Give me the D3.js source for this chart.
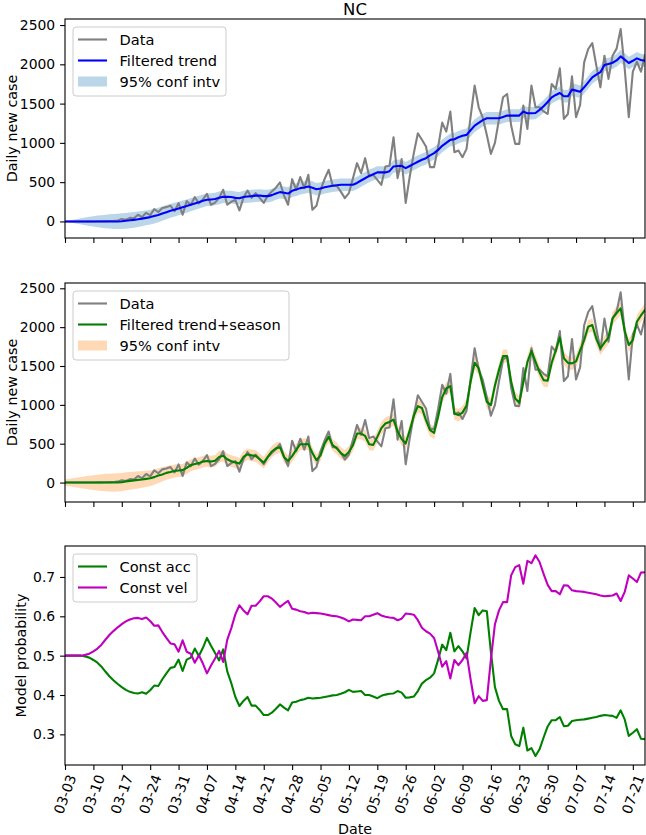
<!DOCTYPE html>
<html><head><meta charset="utf-8">
<script src="https://cdn.jsdelivr.net/npm/d3@7"></script>
<style>body{margin:0;background:#fff} svg{display:block} text{font-family:"DejaVu Sans",sans-serif;fill:#000}</style>
</head><body><svg id="c" width="646" height="835"></svg>
<script>
const title = "NC";
const startYear = "2020";
const tickLabels = ["03-03","03-10","03-17","03-24","03-31","04-07","04-14","04-21","04-28","05-05","05-12","05-19","05-26","06-02","06-09","06-16","06-23","06-30","07-07","07-14","07-21"];
const yTicksCases = [0,500,1000,1500,2000,2500];
const yTicksProb = [0.3,0.4,0.5,0.6,0.7];

// daily new cases from 03-03 to 07-24
const cases = [
0,0,0,0,0,0,1,0,2,3,4,6,8,12,
30,20,45,40,85,55,110,
80,157,120,170,182,200,130,
233,85,260,210,310,230,280,
352,212,240,300,403,212,250,
275,140,300,394,300,360,300,
236,330,382,430,496,330,212,
538,403,564,424,593,148,199,
403,540,657,454,454,380,297,
361,550,742,615,805,572,593,
530,466,700,708,1072,551,793,
236,572,869,1123,1040,953,691,
691,950,1258,1143,1398,881,903,
818,924,1330,1729,1453,1320,1100,
860,1000,1300,1580,1623,1220,987,
987,1474,1178,1729,1453,1453,1400,
1368,1750,1686,1949,1305,1368,1848,
1326,1482,2025,2195,2271,1983,1707,
2110,1814,2110,2200,2449,1941,1326,
1906,2033,1906,2118];

const trend = [
0,0,0,0,0,0,0,0,0,0,0,0,0,0,
3,8,14,20,27,36,45,
55,68,82,100,118,135,150,
165,180,195,212,228,245,262,
275,280,285,300,315,312,310,
300,295,310,318,322,328,330,
322,322,335,355,373,365,355,
390,405,424,432,445,430,410,
420,435,445,455,460,466,466,
466,466,490,521,550,580,600,
624,624,624,640,700,705,708,
678,705,733,760,785,805,840,
869,910,962,1000,1038,1047,1072,
1090,1102,1160,1220,1255,1290,1313,
1313,1313,1313,1330,1347,1347,1347,
1347,1398,1377,1377,1380,1420,1466,
1520,1580,1610,1635,1593,1593,1678,
1665,1652,1707,1770,1834,1870,1900,
1991,2005,2020,2050,2101,2060,2017,
2045,2076,2055,2046];

const trendHalfWidth = [
0,10,20,30,40,50,58,66,74,80,86,91,95,98,
100,100,100,99,98,96,95,
94,93,92,91,90,89,88,
87,86,85,84,83,82,81,
80,80,80,80,80,80,80,
80,80,80,80,80,80,80,
80,80,80,80,80,80,80,
80,80,80,80,80,80,80,
80,80,80,80,80,80,80,
80,80,80,80,80,80,80,
80,80,80,80,80,80,80,
80,80,80,80,80,80,80,
80,80,80,80,80,80,80,
80,80,80,80,80,80,80,
80,80,80,80,80,80,80,
80,80,80,80,80,80,80,
80,80,80,80,80,80,80,
80,80,80,80,80,80,80,
80,80,80,80,80,80,80,
80,80,80,80];

const trendSeason = [
0,0,0,0,0,0,0,0,0,0,0,0,0,2,
5,15,22,28,35,40,48,
55,70,90,105,125,135,150,
155,160,190,223,238,250,270,
278,270,280,330,345,300,275,
260,244,330,364,350,343,300,
257,330,400,440,455,330,278,
340,420,493,493,495,380,287,
350,500,588,481,440,380,343,
395,480,631,631,600,493,485,
588,700,760,780,810,660,560,
502,674,860,983,960,803,674,
640,850,1100,1211,1241,889,868,
900,990,1300,1542,1469,1250,1039,
996,1250,1450,1627,1627,1297,1082,
1026,1290,1550,1696,1555,1420,1318,
1310,1542,1700,1868,1600,1540,1534,
1560,1700,1834,2006,2027,1850,1727,
1800,1868,2113,2180,2242,1950,1770,
1834,2070,2150,2220];

const seasonHalfWidth = [
40,48,56,64,72,80,88,95,102,108,112,115,117,118,
118,117,115,112,110,107,104,
100,97,94,91,88,86,84,
82,80,79,78,77,76,75,
75,75,75,75,75,75,75,
75,75,75,75,75,75,75,
75,75,75,75,75,75,75,
75,75,75,75,75,75,75,
75,75,75,75,75,75,75,
75,75,75,75,75,75,75,
80,80,80,80,80,80,80,
80,80,80,80,80,80,80,
80,80,80,80,80,80,80,
85,85,85,85,85,85,85,
85,85,85,85,85,85,85,
85,85,85,85,85,85,85,
85,85,85,85,85,85,85,
85,85,85,85,85,85,85,
85,85,85,85,85,85,85,
85,85,85,85];

const probConstAcc = [
0.5,0.5,0.5,0.5,0.5,0.498,0.495,
0.489,0.482,0.472,0.459,0.447,0.437,0.428,
0.42,0.413,0.408,0.405,0.404,0.407,0.403,
0.412,0.424,0.423,0.44,0.455,0.469,0.471,
0.49,0.461,0.49,0.495,0.518,0.499,0.52,
0.545,0.525,0.507,0.488,0.516,0.46,0.43,
0.395,0.372,0.385,0.395,0.373,0.373,0.362,
0.349,0.349,0.355,0.365,0.376,0.368,0.361,
0.381,0.383,0.387,0.389,0.393,0.391,0.392,
0.393,0.395,0.397,0.399,0.4,0.403,0.407,
0.413,0.408,0.409,0.41,0.4,0.4,0.396,
0.392,0.398,0.401,0.403,0.404,0.41,0.406,
0.393,0.394,0.396,0.41,0.429,0.438,0.444,
0.455,0.49,0.528,0.514,0.558,0.511,0.524,
0.511,0.493,0.56,0.621,0.603,0.615,0.613,
0.51,0.42,0.385,0.364,0.364,0.296,0.275,
0.27,0.317,0.259,0.265,0.245,0.262,0.292,
0.32,0.336,0.336,0.344,0.321,0.322,0.334,
0.336,0.337,0.338,0.34,0.342,0.344,0.347,
0.349,0.348,0.347,0.342,0.361,0.338,0.296,
0.304,0.313,0.289,0.288];

const probConstVel = [
0.5,0.5,0.5,0.5,0.5,0.502,0.505,
0.511,0.518,0.528,0.541,0.553,0.563,0.572,
0.58,0.587,0.592,0.595,0.596,0.593,0.597,
0.588,0.576,0.577,0.56,0.545,0.531,0.529,
0.51,0.539,0.51,0.505,0.482,0.501,0.48,
0.455,0.475,0.493,0.512,0.484,0.54,0.57,
0.605,0.628,0.615,0.605,0.627,0.627,0.638,
0.651,0.651,0.645,0.635,0.624,0.632,0.639,
0.619,0.617,0.613,0.611,0.607,0.609,0.608,
0.607,0.605,0.603,0.601,0.6,0.597,0.593,
0.587,0.592,0.591,0.59,0.6,0.6,0.604,
0.608,0.602,0.599,0.597,0.596,0.59,0.594,
0.607,0.606,0.604,0.59,0.571,0.562,0.556,
0.545,0.51,0.472,0.486,0.442,0.489,0.476,
0.489,0.507,0.44,0.379,0.397,0.385,0.387,
0.49,0.58,0.615,0.636,0.636,0.704,0.725,
0.73,0.683,0.741,0.735,0.755,0.738,0.708,
0.68,0.664,0.664,0.656,0.679,0.678,0.666,
0.664,0.663,0.662,0.66,0.658,0.656,0.653,
0.651,0.652,0.653,0.658,0.639,0.662,0.704,
0.696,0.687,0.711,0.712];

// ---------- drawing ----------
const svg = d3.select("#c");
const FONT = 13.9, LABEL_FONT = 14.3, LEG_FONT = 14.6;
const parse = d3.utcParse("%Y-%m-%d");
const t0 = parse(startYear + "-" + tickLabels[0]);
const dates = cases.map((_, i) => d3.utcDay.offset(t0, i));
const tickDates = tickLabels.map(l => parse(startYear + "-" + l));
const L = 65, R = 645;
const x = d3.scaleUtc().domain([dates[0], dates[dates.length - 1]]).range([L, R]);

const panels = [
  {top: 19, bottom: 238, domain: [-211, 2577], ticks: yTicksCases, fmt: d3.format("d"), ylabel: "Daily new case", ylx: 17.3},
  {top: 283, bottom: 502, domain: [-250, 2568], ticks: yTicksCases, fmt: d3.format("d"), ylabel: "Daily new case", ylx: 17.3},
  {top: 546, bottom: 765, domain: [0.2221, 0.7787], ticks: yTicksProb, fmt: d3.format(".1f"), ylabel: "Model probability", ylx: 25.6}
];

panels.forEach((p, k) => {
  p.y = d3.scaleLinear().domain(p.domain).range([p.bottom, p.top]);
  const id = "clip" + k;
  svg.append("clipPath").attr("id", id).append("rect")
    .attr("x", L).attr("y", p.top).attr("width", R - L).attr("height", p.bottom - p.top);
  p.g = svg.append("g").attr("clip-path", `url(#${id})`);
});

function band(p, center, hw, color) {
  const area = d3.area().x((d, i) => x(dates[i]))
    .y0((d, i) => p.y(center[i] - hw[i])).y1((d, i) => p.y(center[i] + hw[i]));
  p.g.append("path").datum(center).attr("d", area).attr("fill", color).attr("fill-opacity", 0.3).attr("stroke", "none");
}
function line(p, vals, color, w) {
  const ln = d3.line().x((d, i) => x(dates[i])).y(d => p.y(d));
  p.g.append("path").datum(vals).attr("d", ln).attr("fill", "none").attr("stroke", color)
    .attr("stroke-width", w).attr("stroke-linejoin", "round").attr("stroke-linecap", "square");
}

// panel 1
band(panels[0], trend, trendHalfWidth, "#1f77b4");
line(panels[0], cases, "#808080", 2.1);
line(panels[0], trend, "#0000ff", 2.1);
// panel 2
band(panels[1], trendSeason, seasonHalfWidth, "#ff7f0e");
line(panels[1], cases, "#808080", 2.1);
line(panels[1], trendSeason, "#008000", 2.1);
// panel 3
line(panels[2], probConstAcc, "#008000", 2.1);
line(panels[2], probConstVel, "#bf00bf", 2.1);

// axes
panels.forEach((p, k) => {
  const ya = svg.append("g").attr("transform", `translate(${L},0)`)
    .call(d3.axisLeft(p.y).tickValues(p.ticks).tickFormat(p.fmt).tickSize(4.9).tickPadding(4.9));
  ya.select(".domain").remove();
  ya.selectAll("line").attr("stroke", "#000").attr("stroke-width", 1.1);
  ya.selectAll("text").attr("font-size", FONT).attr("font-family", "DejaVu Sans").attr("fill", "#000");

  const xa = svg.append("g").attr("transform", `translate(0,${p.bottom})`)
    .call(d3.axisBottom(x).tickValues(tickDates).tickFormat("").tickSize(4.9));
  xa.select(".domain").remove();
  xa.selectAll("line").attr("stroke", "#000").attr("stroke-width", 1.1);

  svg.append("rect").attr("x", L).attr("y", p.top).attr("width", R - L).attr("height", p.bottom - p.top)
    .attr("fill", "none").attr("stroke", "#000").attr("stroke-width", 1.1);

  const cy = (p.top + p.bottom) / 2;
  svg.append("text").attr("transform", `translate(${p.ylx},${cy}) rotate(-90)`)
    .attr("text-anchor", "middle").attr("font-size", LABEL_FONT).text(p.ylabel);
});

// rotated date labels
const p3 = panels[2];
svg.append("g").selectAll("text").data(tickDates).join("text")
  .attr("transform", (d) => `translate(${x(d)},${p3.bottom + 29.2}) rotate(-70)`)
  .attr("text-anchor", "middle").attr("dominant-baseline", "central")
  .attr("font-size", FONT).text((d, i) => tickLabels[i]);

svg.append("text").attr("x", (L + R) / 2).attr("y", 833.5).attr("text-anchor", "middle")
  .attr("font-size", LABEL_FONT).text("Date");
svg.append("text").attr("x", (L + R) / 2).attr("y", 14.5).attr("text-anchor", "middle")
  .attr("font-size", 16.5).text(title);

// legends
function legend(p, w, items) {
  const bx = 73, by = p.top + 8, rowH = 21;
  const h = items.length * rowH + 6;
  const g = svg.append("g");
  g.append("rect").attr("x", bx).attr("y", by).attr("width", w).attr("height", h)
    .attr("rx", 3).attr("fill", "#fff").attr("fill-opacity", 0.8).attr("stroke", "#cccccc").attr("stroke-width", 1);
  items.forEach((it, i) => {
    const cy = by + 12.5 + i * rowH;
    if (it.type === "line") {
      g.append("line").attr("x1", 78).attr("x2", 107).attr("y1", cy).attr("y2", cy)
        .attr("stroke", it.color).attr("stroke-width", 2.1);
    } else {
      g.append("rect").attr("x", 78).attr("y", cy - 5).attr("width", 29).attr("height", 10)
        .attr("fill", it.color).attr("fill-opacity", 0.3);
    }
    g.append("text").attr("x", 119.5).attr("y", cy).attr("dominant-baseline", "central")
      .attr("font-size", LEG_FONT).text(it.label);
  });
}
legend(panels[0], 153, [
  {type: "line", color: "#808080", label: "Data"},
  {type: "line", color: "#0000ff", label: "Filtered trend"},
  {type: "patch", color: "#1f77b4", label: "95% conf intv"}]);
legend(panels[1], 216, [
  {type: "line", color: "#808080", label: "Data"},
  {type: "line", color: "#008000", label: "Filtered trend+season"},
  {type: "patch", color: "#ff7f0e", label: "95% conf intv"}]);
legend(panels[2], 124, [
  {type: "line", color: "#008000", label: "Const acc"},
  {type: "line", color: "#bf00bf", label: "Const vel"}]);
</script>
</body></html>
